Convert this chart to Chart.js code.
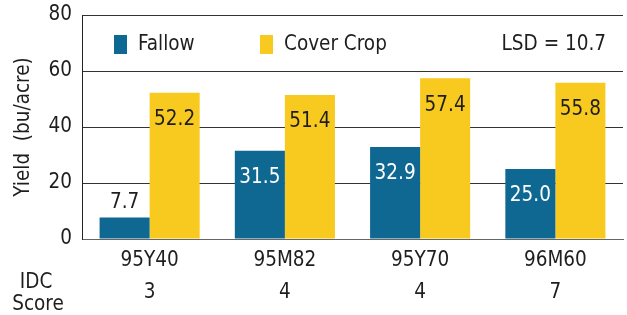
<!DOCTYPE html>
<html>
<head>
<meta charset="utf-8">
<script src="https://cdn.jsdelivr.net/npm/chart.js@4.4.0/dist/chart.umd.min.js"></script>
<style>
html, body { margin: 0; padding: 0; background: #fff; }
#wrap { width: 627px; height: 315px; }
</style>
</head>
<body>
<div id="wrap"><canvas id="yield"></canvas></div>
<script>
const hybrids = ['95Y40', '95M82', '95Y70', '96M60'];
const idcScores = ['3', '4', '4', '7'];
const fallow = [7.7, 31.5, 32.9, 25.0];
const coverCrop = [52.2, 51.4, 57.4, 55.8];
const yTicks = [0, 20, 40, 60, 80];
const lsdText = 'LSD = 10.7';
const idcLabel = ['IDC', 'Score'];

const FONT = "'DejaVu Sans Condensed', 'DejaVu Sans', sans-serif";
const SIZE = 20.5;
const BLUE = '#0f6892';
const GOLD = '#f8c91f';
const INK = '#1e1e1e';

// value labels: inside the bar near its top, or above it when the bar is short
const barLabels = {
  id: 'barLabels',
  afterDatasetsDraw(chart) {
    const ctx = chart.ctx;
    ctx.save();
    ctx.font = SIZE + 'px ' + FONT;
    ctx.textAlign = 'center';
    ctx.textBaseline = 'middle';
    chart.data.datasets.forEach((ds, i) => {
      chart.getDatasetMeta(i).data.forEach((bar, j) => {
        const v = ds.data[j];
        const inside = v > 15;
        ctx.fillStyle = inside ? ds.labelColor : INK;
        ctx.fillText(v.toFixed(1), bar.x, inside ? bar.y + 27 : bar.y - 15);
      });
    });
    ctx.restore();
  }
};

// legend sits inside the plot, plus the LSD note and the "IDC Score" row title
const keyAndNotes = {
  id: 'keyAndNotes',
  afterDraw(chart) {
    const { ctx, chartArea: a } = chart;
    ctx.save();
    ctx.font = SIZE + 'px ' + FONT;
    ctx.textBaseline = 'middle';
    const keyX = [a.left + 32, a.left + 178];
    chart.data.datasets.forEach((ds, i) => {
      ctx.fillStyle = ds.backgroundColor;
      ctx.fillRect(keyX[i], a.top + 20, 13, 19);
      ctx.fillStyle = INK;
      ctx.textAlign = 'left';
      ctx.fillText(ds.label, keyX[i] + 24, a.top + 30);
    });
    ctx.fillStyle = INK;
    ctx.textAlign = 'right';
    ctx.fillText(lsdText, a.right - 17, a.top + 30);
    ctx.textAlign = 'center';
    ctx.fillText(idcLabel[0], 36, 283);
    ctx.fillText(idcLabel[1], 38, 305);
    ctx.restore();
  }
};

new Chart(document.getElementById('yield'), {
  type: 'bar',
  data: {
    labels: hybrids.map((h, i) => [h, idcScores[i]]),
    datasets: [
      { label: 'Fallow', data: fallow, backgroundColor: BLUE, labelColor: '#ffffff' },
      { label: 'Cover Crop', data: coverCrop, backgroundColor: GOLD, labelColor: INK }
    ]
  },
  options: {
    responsive: true,
    maintainAspectRatio: false,
    animation: false,
    layout: { padding: { top: 15, right: 4, left: 0, bottom: 0 } },
    datasets: { bar: { categoryPercentage: 0.74, barPercentage: 1.0 } },
    plugins: { legend: { display: false }, tooltip: { enabled: false } },
    scales: {
      x: {
        grid: { display: false, drawTicks: false },
        border: { color: '#666' },
        ticks: {
          color: INK, padding: 6, maxRotation: 0, autoSkip: false,
          font: { family: FONT, size: SIZE, lineHeight: 32 / SIZE }
        },
        afterFit(s) { s.height = 76; }
      },
      y: {
        min: 0, max: 80,
        afterBuildTicks(s) { s.ticks = yTicks.map(v => ({ value: v })); },
        grid: { color: '#333', drawTicks: false },
        border: { color: '#222' },
        ticks: { color: INK, padding: 10, font: { family: FONT, size: SIZE } },
        title: {
          display: true, text: 'Yield  (bu/acre)', color: INK,
          font: { family: FONT, size: SIZE }, padding: { top: 11, bottom: 0 }
        },
        afterFit(s) {
          s.width = 82;
          s.paddingTop = 0;
          s.paddingBottom = 0;
        }
      }
    }
  },
  plugins: [barLabels, keyAndNotes]
});
</script>
</body>
</html>
